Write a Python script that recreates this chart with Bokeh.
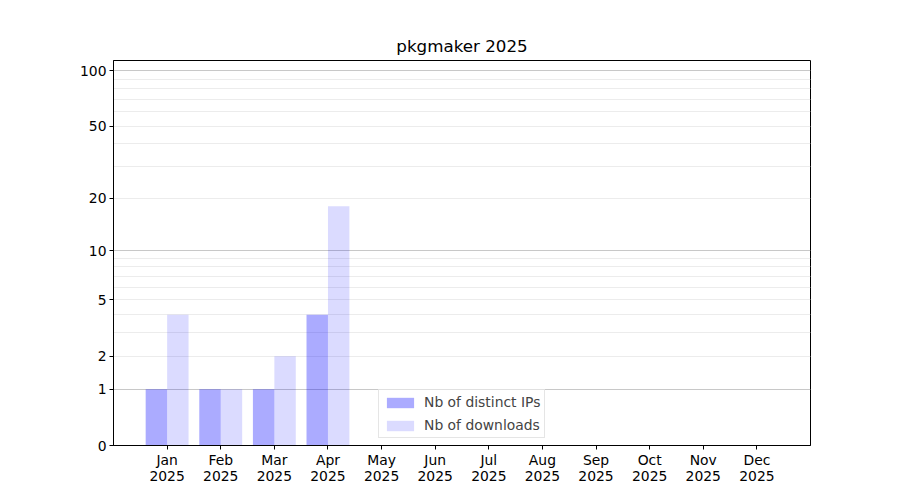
import math
from bokeh.plotting import figure
from bokeh.models import ColumnDataSource, FixedTicker, Range1d, Legend, LegendItem, LinearAxis
from bokeh.embed import file_html
from bokeh.resources import INLINE

# ---- data ----
months = ["Jan", "Feb", "Mar", "Apr", "May", "Jun", "Jul", "Aug", "Sep", "Oct", "Nov", "Dec"]
year = "2025"
distinct_ips = [1, 1, 1, 4, 0, 0, 0, 0, 0, 0, 0, 0]
downloads = [4, 1, 2, 18, 0, 0, 0, 0, 0, 0, 0, 0]
y_tick_values = [0, 1, 2, 5, 10, 20, 50, 100]
y_major_grid = [1, 10, 100]
y_minor_grid = [2, 3, 4, 5, 6, 7, 8, 9, 20, 30, 40, 50, 60, 70, 80, 90]
title_text = "pkgmaker 2025"


def tr(v):
    return math.log10(1 + v)


idx = list(range(len(months)))
src = ColumnDataSource(dict(
    x_ips=[i - 0.2 for i in idx],
    x_dl=[i + 0.2 for i in idx],
    ips=[tr(v) for v in distinct_ips],
    dl=[tr(v) for v in downloads],
))

FONT = "DejaVu Sans"

p = figure(width=884, height=492, output_backend="svg", toolbar_location=None,
           x_range=Range1d(-1, 12), y_range=Range1d(0, tr(113.3)),
           min_border_left=113, min_border_right=74, min_border_top=60, min_border_bottom=47)

p.title.text = title_text
p.title.align = "center"
p.title.text_font = FONT
p.title.text_font_size = "16.7px"
p.title.text_font_style = "normal"
p.title.text_color = "black"
p.title.standoff = 9

r1 = p.vbar(x="x_ips", top="ips", bottom=0, width=0.4, source=src,
            fill_color="blue", fill_alpha=0.33, line_color=None)
r2 = p.vbar(x="x_dl", top="dl", bottom=0, width=0.4, source=src,
            fill_color="blue", fill_alpha=0.14, line_color=None)

# axes
yt = [tr(v) for v in y_tick_values]
p.yaxis.ticker = FixedTicker(ticks=yt, minor_ticks=[])
p.yaxis.major_label_overrides = {t: str(v) for t, v in zip(yt, y_tick_values)}
p.xaxis.ticker = FixedTicker(ticks=idx, minor_ticks=[])
p.xaxis.major_label_overrides = {i: m for i, m in zip(idx, months)}

for ax in (p.xaxis[0], p.yaxis[0]):
    ax.major_label_text_font = FONT
    ax.major_label_text_font_size = "13.9px"
    ax.major_label_text_color = "black"
    ax.major_tick_out = 4
    ax.major_tick_in = 0
    ax.minor_tick_out = 0
    ax.minor_tick_in = 0
    ax.major_tick_line_color = "black"
    ax.axis_line_color = "black"
    ax.major_label_standoff = 3
p.xaxis[0].major_label_standoff = 2

# second line of x tick labels (year)
year_axis = LinearAxis(ticker=FixedTicker(ticks=idx, minor_ticks=[]),
                       major_label_overrides={i: year for i in idx})
year_axis.major_label_text_font = FONT
year_axis.major_label_text_font_size = "13.9px"
year_axis.major_label_text_color = "black"
year_axis.major_tick_out = 0
year_axis.major_tick_in = 0
year_axis.minor_tick_out = 0
year_axis.minor_tick_in = 0
year_axis.axis_line_color = None
year_axis.major_tick_line_color = None
year_axis.major_label_standoff = 0
p.add_layout(year_axis, "below")

# grids
p.xgrid.visible = False
g = p.ygrid[0]
g.ticker = FixedTicker(ticks=[tr(v) for v in y_major_grid],
                       minor_ticks=[tr(v) for v in y_minor_grid])
g.grid_line_color = "#c8c8c8"
g.grid_line_width = 1
g.minor_grid_line_color = "#ececec"
g.minor_grid_line_width = 1

p.outline_line_color = "black"
p.outline_line_alpha = 1
p.outline_line_width = 1
p.background_fill_color = "white"
p.border_fill_color = "white"

legend = Legend(items=[LegendItem(label="Nb of distinct IPs", renderers=[r1]),
                       LegendItem(label="Nb of downloads", renderers=[r2])],
                location=(265, 7))
legend.label_text_font = FONT
legend.label_text_font_size = "13.9px"
legend.glyph_width = 34
legend.glyph_height = 13
legend.label_height = 13
legend.spacing = 7
legend.padding = 4
legend.label_standoff = 7
legend.border_line_color = "#cccccc"
legend.background_fill_alpha = 0.8
p.add_layout(legend, "center")

open("out.html", "w").write(file_html(p, INLINE))
